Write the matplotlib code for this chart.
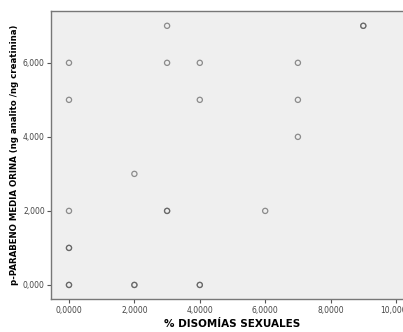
import matplotlib
matplotlib.use("Agg")
import matplotlib.pyplot as plt
from matplotlib.ticker import FuncFormatter

# % disomias sexuales vs p-parabeno (duplicates repeated so they look darker)
disomias = [0, 0, 0, 0, 0, 0, 0, 2, 2, 2, 3, 3, 3, 3, 4, 4, 4, 4, 6, 7, 7, 7, 9, 9]
parabeno = [6, 5, 2, 1, 1, 0, 0, 3, 0, 0, 7, 6, 2, 2, 6, 5, 0, 0, 2, 6, 5, 4, 7, 7]
x_ticks = [0, 2, 4, 6, 8, 10]
y_ticks = [0, 2, 4, 6]

fig = plt.figure(figsize=(4.03, 3.32), dpi=100)
ax = fig.add_axes([51/403, 33/332, (69 + 10.5*32.7 - 51)/403, 288/332])
ax.set_facecolor("#efefef")

ax.scatter(disomias, parabeno, s=14, facecolors="none", edgecolors="#555555",
           linewidths=0.9, alpha=0.65, zorder=3)

ax.set_xlim(-0.55, 10.5)
ax.set_ylim(-0.38, 7.4)
ax.set_xticks(x_ticks)
ax.set_yticks(y_ticks)
ax.xaxis.set_major_formatter(FuncFormatter(lambda v, p: f"{v:.4f}".replace(".", ",")))
ax.yaxis.set_major_formatter(FuncFormatter(lambda v, p: f"{v:.3f}".replace(".", ",")))
ax.tick_params(labelsize=5.5, labelcolor="#444444", color="#555555", length=3, width=0.8)
ax.tick_params(axis="x", pad=2)
ax.tick_params(axis="y", pad=1.5)

for s in ax.spines.values():
    s.set_color("#777777")
    s.set_linewidth(1.0)

ax.set_xlabel("% DISOMÍAS SEXUALES", fontsize=7.5, fontweight="bold", labelpad=3)
ax.set_ylabel("p-PARABENO MEDIA ORINA (ng analito /ng creatinina)", fontsize=6.2,
              fontweight="bold", labelpad=3)

plt.savefig("out.png", dpi=100)
